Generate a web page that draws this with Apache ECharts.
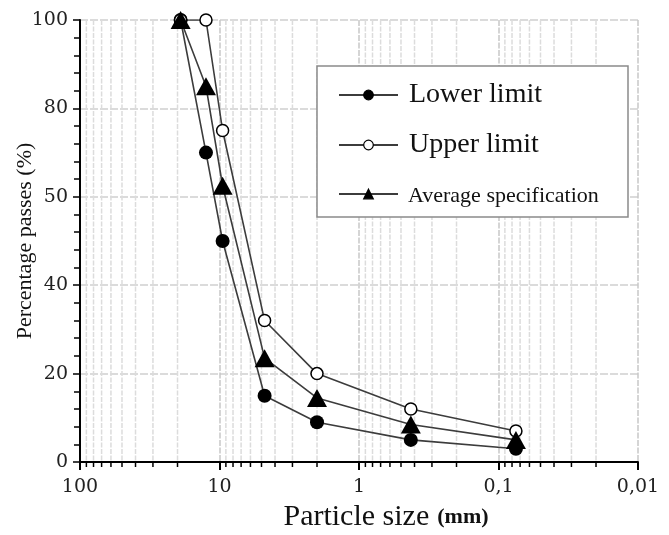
<!DOCTYPE html>
<html>
<head>
<meta charset="utf-8">
<script src="https://cdn.jsdelivr.net/npm/echarts@6/dist/echarts.min.js"></script>
<style>
  html, body { margin: 0; padding: 0; background: #fff; }
  #chart { width: 669px; height: 535px; }
</style>
</head>
<body>
<div id="chart"></div>
<script>
// Sieve sizes (mm) and percentage passing for the grading envelope
const sieveSizes = [19, 12.5, 9.5, 4.75, 2, 0.425, 0.075];
const lowerLimit = [100, 70, 50, 15, 9, 5, 3];
const upperLimit = [100, 100, 75, 32, 20, 12, 7];
const averageSpec = [100, 85, 62.5, 23.5, 14.5, 8.5, 5];

// Axis tick labels
const xTickLabels = ['0,01', '0,1', '1', '10', '100'];   // decades 10^-2 .. 10^2
const yTickLabels = ['0', '20', '40', '50', '80', '100']; // every 20 %

// Intermediate log-grid positions (2..9 within each decade)
const decades = [0.01, 0.1, 1, 10];
const minorMultipliers = [2, 3, 4, 5, 6, 7, 8, 9];
const minorPositions = [];
decades.forEach(d => minorMultipliers.forEach(m => minorPositions.push([+(m * d).toPrecision(3), 0])));

const pairs = vals => sieveSizes.map((s, i) => [s, vals[i]]);

const serif = '"Liberation Serif", "Times New Roman", serif';
const tickFont = '"DejaVu Serif", serif';
const lineColor = '#3c3c3c';

const chart = echarts.init(document.getElementById('chart'), null, { renderer: 'canvas' });

chart.setOption({
  animation: false,
  backgroundColor: '#fff',
  grid: { left: 80, right: 31, top: 20, bottom: 73, containLabel: false, outerBoundsMode: 'none' },
  xAxis: {
    type: 'log',
    logBase: 10,
    min: 0.01,
    max: 100,
    inverse: true,
    name: '{a|Particle size}{b|(mm)}',
    nameLocation: 'middle',
    nameMoveOverlap: false,
    nameGap: 40,
    nameTextStyle: {
      padding: [0, 0, 0, 54],
      rich: {
        a: { fontFamily: serif, fontSize: 30, color: '#111' },
        b: { fontFamily: serif, fontSize: 22, fontWeight: 'bold', color: '#111', padding: [0, 0, 0, 8] }
      }
    },
    axisLine: { show: true, onZero: false, lineStyle: { color: '#000', width: 2 } },
    axisTick: { show: true, inside: false, length: 8, lineStyle: { color: '#000', width: 2 } },
    axisLabel: {
      margin: 16,
      fontFamily: tickFont,
      fontSize: 19,
      color: '#222',
      formatter: v => xTickLabels[Math.round(Math.log10(v)) + 2]
    },
    splitLine: { show: true, lineStyle: { color: '#c8c8c8', width: 1.5, type: [6, 1.5] } }
  },
  yAxis: {
    type: 'value',
    min: 0,
    max: 100,
    interval: 20,
    name: 'Percentage passes (%)',
    nameLocation: 'middle',
    nameMoveOverlap: false,
    nameGap: 44,
    nameTextStyle: { fontFamily: serif, fontSize: 22, color: '#111' },
    axisLine: { show: true, lineStyle: { color: '#000', width: 2 } },
    axisTick: { show: true, length: 7, lineStyle: { color: '#000', width: 1.5 } },
    minorTick: { show: true, splitNumber: 5, length: 6, lineStyle: { color: '#000', width: 1.5 } },
    axisLabel: {
      margin: 12,
      fontFamily: tickFont,
      fontSize: 19,
      color: '#222',
      formatter: v => yTickLabels[Math.round(v / 20)]
    },
    splitLine: { show: true, lineStyle: { color: '#cfcfcf', width: 1.5, type: [8, 2] } }
  },
  legend: {
    data: ['Lower limit', 'Upper limit', 'Average specification'],
    orient: 'vertical',
    left: 338,
    top: 81,
    padding: 0,
    itemGap: 22,
    itemWidth: 59,
    itemHeight: 12,
    selectedMode: false,
    itemStyle: { borderWidth: 1.2 },
    lineStyle: { width: 2 },
    formatter: name => name === 'Average specification' ? '{s|' + name + '}' : '{b|' + name + '}',
    textStyle: {
      rich: {
        b: { fontFamily: serif, fontSize: 28, lineHeight: 30, color: '#111', padding: [0, 0, 0, 6] },
        s: { fontFamily: serif, fontSize: 22, lineHeight: 30, color: '#111', padding: [4, 0, 0, 5] }
      }
    }
  },
  graphic: [{
    type: 'rect',
    z: 3,
    silent: true,
    shape: { x: 317, y: 66, width: 311, height: 151 },
    style: { fill: '#fff', stroke: '#8a8a8a', lineWidth: 1.5 }
  }],
  series: [
    {
      // intermediate vertical grid lines and minor ticks of the log axis
      type: 'custom',
      silent: true,
      z: 1,
      data: minorPositions,
      encode: { x: 0, y: 1 },
      renderItem: (params, api) => {
        const v = api.value(0);
        const top = api.coord([v, 100]);
        const bottom = api.coord([v, 0]);
        return {
          type: 'group',
          children: [
            { type: 'line', shape: { x1: top[0], y1: top[1], x2: bottom[0], y2: bottom[1] },
              style: { stroke: '#dcdcdc', lineWidth: 1.5, lineDash: [5, 1.5] } },
            { type: 'line', shape: { x1: bottom[0], y1: bottom[1], x2: bottom[0], y2: bottom[1] + 5 },
              style: { stroke: '#000', lineWidth: 1.5 } }
          ]
        };
      }
    },
    {
      name: 'Lower limit',
      type: 'line',
      z: 5,
      data: pairs(lowerLimit),
      symbol: 'circle',
      symbolSize: 14,
      showAllSymbol: true,
      lineStyle: { color: lineColor, width: 1.6 },
      itemStyle: { color: '#000', borderColor: '#000', borderWidth: 0 }
    },
    {
      name: 'Upper limit',
      type: 'line',
      z: 5,
      data: pairs(upperLimit),
      symbol: 'circle',
      symbolSize: 12,
      showAllSymbol: true,
      lineStyle: { color: lineColor, width: 1.6 },
      itemStyle: { color: '#fff', borderColor: '#000', borderWidth: 1.5 }
    },
    {
      name: 'Average specification',
      type: 'line',
      z: 6,
      data: pairs(averageSpec),
      symbol: 'triangle',
      symbolSize: [20, 18],
      showAllSymbol: true,
      lineStyle: { color: lineColor, width: 1.6 },
      itemStyle: { color: '#000', borderColor: '#000', borderWidth: 0 }
    }
  ]
});
</script>
</body>
</html>
